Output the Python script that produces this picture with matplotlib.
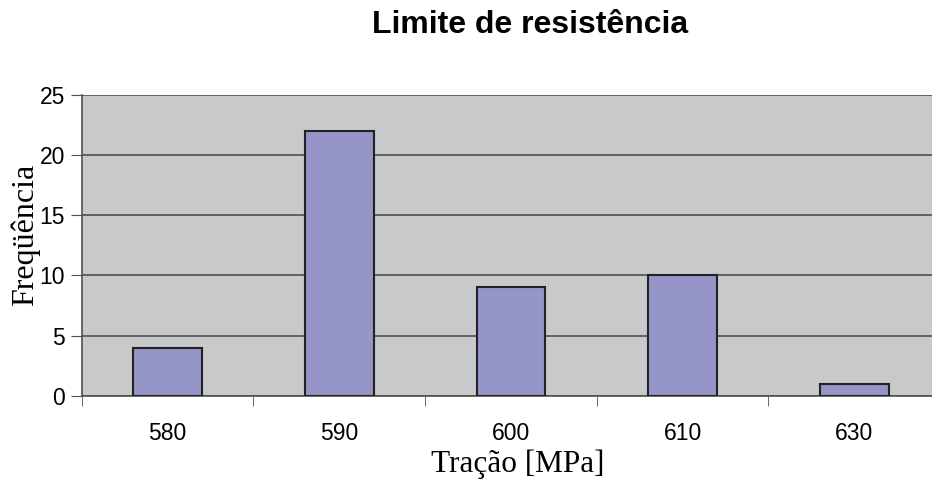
import matplotlib
matplotlib.use("Agg")
import matplotlib.pyplot as plt
import numpy as np

categorias = ["580", "590", "600", "610", "630"]
frequencia = [4, 22, 9, 10, 1]

fig = plt.figure(figsize=(9.32, 4.82), dpi=100)
# the grey plot area runs off the right edge, as in the original
ax = fig.add_axes([0.0877, 0.179, 0.921, 0.624])
ax.set_facecolor("#c8c9cb")

x = np.arange(len(categorias))
ax.bar(x, frequencia, width=0.40, color="#9595c8", edgecolor="#222222", linewidth=1.5, zorder=3)

ax.set_xlim(-0.5, len(categorias) - 0.5)
ax.set_ylim(0, 25)
ax.set_yticks([0, 5, 10, 15, 20, 25])
ax.yaxis.grid(True, color="#505050", linewidth=1.2, zorder=1)
ax.set_axisbelow(True)

ax.set_xticks(x)
ax.set_xticklabels(categorias, fontsize=16.5, family="Liberation Sans")
ax.tick_params(axis="x", length=0, pad=19)
ax.set_xticks(np.arange(-0.5, len(categorias) + 0.5, 1), minor=True)
ax.tick_params(axis="x", which="minor", length=7, color="#505050", direction="out")
ax.tick_params(axis="y", length=8, color="#505050", labelsize=16.5, pad=4)
for lab in ax.get_yticklabels():
    lab.set_family("Liberation Sans")

for s in ["top", "right"]:
    ax.spines[s].set_visible(False)
for s in ["left", "bottom"]:
    ax.spines[s].set_color("#505050")
    ax.spines[s].set_linewidth(1.2)

ax.set_xlabel("Tração [MPa]", fontsize=22.5, family="Liberation Serif")
ax.xaxis.set_label_coords(0.5085, -0.229)
ax.xaxis.label.set_va("center")
ax.set_ylabel("Freqüência", fontsize=23, family="Liberation Serif")
ax.yaxis.set_label_coords(-0.066, 0.535)
ax.yaxis.label.set_va("center")
fig.text(530 / 932, 1 - 25 / 482, "Limite de resistência", fontsize=23, fontweight="bold",
         family="Liberation Sans", ha="center", va="center")

fig.savefig("out.png", dpi=100)
